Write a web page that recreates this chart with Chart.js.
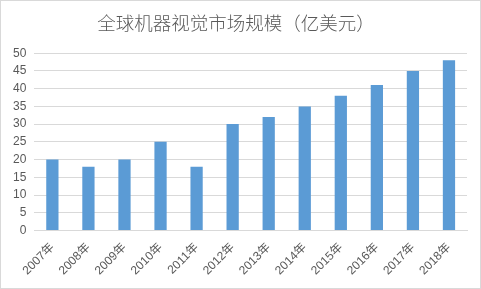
<!DOCTYPE html>
<html lang="zh">
<head>
<meta charset="UTF-8">
<title>全球机器视觉市场规模</title>
<script src="https://cdn.jsdelivr.net/npm/chart.js"></script>
<style>
    html, body {
        margin: 0;
        padding: 0;
        background: #ffffff;
    }
    #wrap {
        position: relative;
        width: 479px;
        height: 287px;
        border: 1px solid #d9d9d9;
    }
</style>
</head>
<body>
<div id="wrap"><canvas id="chart"></canvas></div>
<script>
    const years = ['2007年', '2008年', '2009年', '2010年', '2011年', '2012年',
                   '2013年', '2014年', '2015年', '2016年', '2017年', '2018年'];
    const marketSize = [20, 18, 20, 25, 18, 30, 32, 35, 38, 41, 45, 48];
    const yTicks = [0, 5, 10, 15, 20, 25, 30, 35, 40, 45, 50];

    const titleFont = '"Noto Sans CJK SC", sans-serif';
    const tickFont = '"Liberation Sans", "Noto Sans CJK SC", sans-serif';

    new Chart(document.getElementById('chart'), {
        type: 'bar',
        data: {
            labels: years,
            datasets: [{
                data: marketSize,
                backgroundColor: '#5b9bd5',
                categoryPercentage: 1.0,
                barPercentage: 0.34
            }]
        },
        options: {
            responsive: true,
            maintainAspectRatio: false,
            animation: false,
            layout: {
                padding: { left: 4, right: 13, top: 4, bottom: 8 }
            },
            plugins: {
                legend: { display: false },
                tooltip: { enabled: false },
                title: {
                    display: true,
                    text: '全球机器视觉市场规模（亿美元）',
                    color: '#595959',
                    font: { family: titleFont, size: 18.5, weight: 300 },
                    padding: { top: 7, bottom: 19 }
                }
            },
            scales: {
                x: {
                    grid: { display: false },
                    border: { display: true, color: '#d9d9d9' },
                    ticks: {
                        color: '#595959',
                        font: { family: tickFont, size: 12 },
                        minRotation: 45,
                        maxRotation: 45,
                        padding: 2
                    }
                },
                y: {
                    min: 0,
                    max: 50,
                    afterBuildTicks: axis => {
                        axis.ticks = yTicks.map(v => ({ value: v }));
                    },
                    grid: { color: '#d9d9d9', drawTicks: false },
                    border: { display: false },
                    ticks: {
                        color: '#595959',
                        font: { family: tickFont, size: 12 },
                        padding: 8
                    }
                }
            }
        }
    });
</script>
</body>
</html>
